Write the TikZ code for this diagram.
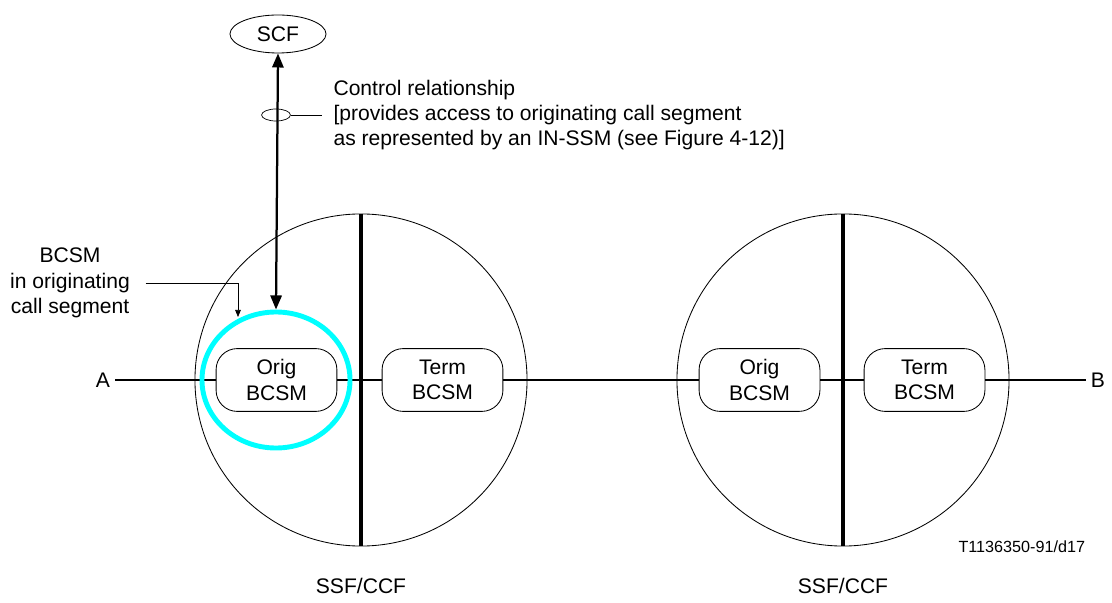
\documentclass[tikz,border=0pt]{standalone}
\usepackage{fontspec}
\setmainfont{Liberation Sans}
\usetikzlibrary{shapes.geometric,arrows.meta}

\definecolor{segcyan}{RGB}{0,255,255}
\tikzset{
  bcsm/.style={draw, line width=0.6pt, rounded corners=15pt, fill=white,
    minimum width=3.02cm, minimum height=1.57cm, align=center, inner sep=0pt},
  ssf/.style={draw, line width=0.6pt, circle, minimum size=8.3cm, inner sep=0pt},
  divider/.style={line width=2.8pt},
  callline/.style={line width=1.3pt},
  ctrl/.style={line width=1.6pt, {Triangle[length=10pt,width=8pt]}-{Triangle[length=10pt,width=8pt]}},
}

\begin{document}
\begin{tikzpicture}[x=0.025cm, y=-0.025cm, font=\fontsize{15}{18}\selectfont]
    \useasboundingbox (0,0) rectangle (1112,603);

    % switching points
    \node[ssf] (ssfL) at (361,380) {};
    \node[ssf] (ssfR) at (843,380) {};
    \draw[divider] (ssfL.north) -- (ssfL.south);
    \draw[divider] (ssfR.north) -- (ssfR.south);
    \node (ssfLtxt) at (361,586) {SSF/CCF};
    \node (ssfRtxt) at (843,586) {SSF/CCF};

    % call segments
    \node[bcsm] (origL) at (276.5,380) {Orig\\BCSM};
    \node[bcsm] (termL) at (442.5,380) {Term\\BCSM};
    \node[bcsm] (origR) at (759.5,380) {Orig\\BCSM};
    \node[bcsm] (termR) at (924.5,380) {Term\\BCSM};

    % end users
    \node (partyA) at (103,380) {A};
    \node (partyB) at (1098,380) {B};
    \draw[callline] (partyA) -- (origL) -- (termL) -- (origR) -- (termR) -- (partyB);

    % highlighted originating segment
    \node[ellipse, draw=segcyan, line width=3.5pt, minimum width=3.7cm, minimum height=3.4cm] (seg) at (276,380) {};

    % service control
    \node[ellipse, draw, line width=0.6pt, minimum width=2.4cm, minimum height=0.95cm, inner sep=0pt] (scf) at (278,34) {SCF};
    \draw[ctrl] (scf.south) -- (seg.north);

    % control relationship label
    \node[ellipse, draw, line width=0.5pt, minimum width=0.72cm, minimum height=0.3cm, inner sep=0pt] (ring) at (276,115) {};
    \node[anchor=west, align=left, inner sep=8pt] (ctrltxt) at (322,115)
      {Control relationship\\{[}provides access to originating call segment\\as represented by an IN-SSM (see Figure 4-12)]};
    \draw[line width=0.5pt] (ring.east) -- (ctrltxt.west);

    % BCSM pointer
    \node[align=center, inner sep=6pt] (bcsmtxt) at (70,283) {BCSM\\in originating\\call segment};
    \coordinate (bcsmtip) at (238,317);
    \draw[line width=0.5pt, -{Triangle[length=5pt,width=4pt]}] ([xshift=5pt]bcsmtxt.east) -| (bcsmtip);

    % figure reference
    \node[anchor=east, font=\fontsize{11.5}{14}\selectfont] (figref) at (1090,547) {T1136350-91/d17};
\end{tikzpicture}
\end{document}
